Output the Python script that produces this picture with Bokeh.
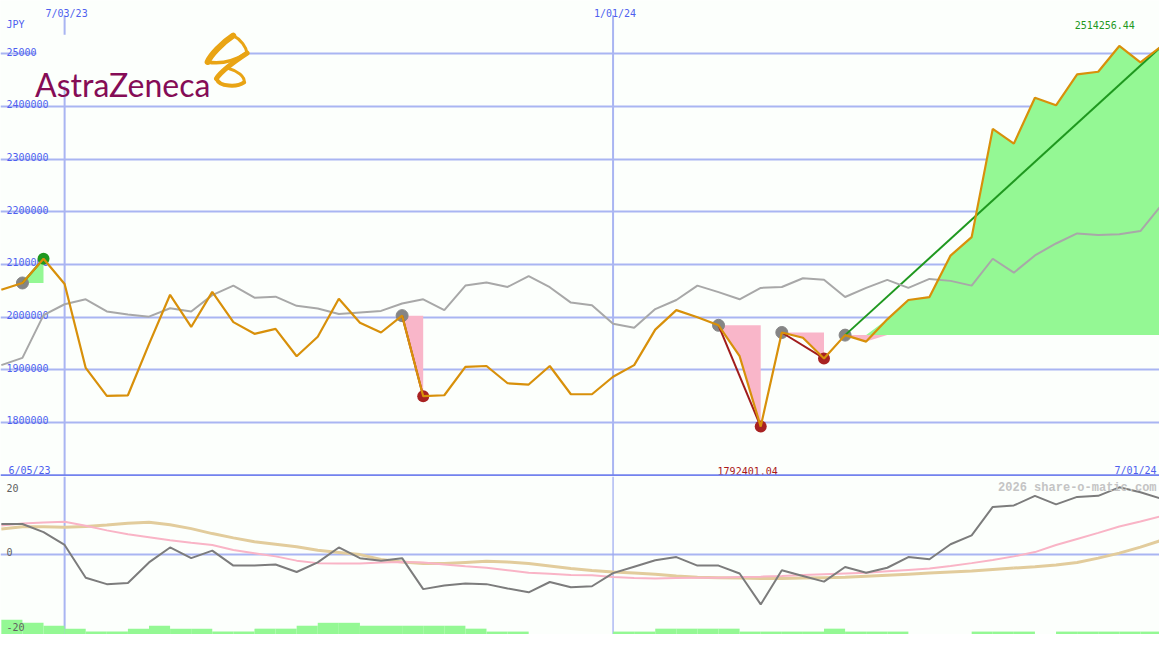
import pandas as pd
from bokeh.plotting import figure
from bokeh.layouts import column
from bokeh.models import Range1d, Grid, FixedTicker, Span
from bokeh.core.properties import value
from bokeh.embed import file_html
from bokeh.resources import INLINE

# ---------------- data ----------------
week_dates = list(pd.date_range("2023-06-12", periods=56, freq="7D"))
week_labels = [f"{d.month}/{d.day:02d}/{d:%y}" for d in week_dates]

price = [2052000, 2065000, 2111000, 2063000, 1903700, 1850500, 1851800, 1948900,
         2042600, 1981500, 2048000, 1990700, 1968500, 1977800, 1925900, 1963000,
         2035000, 1989400, 1971000, 2003000, 1850000, 1851800, 1905600, 1907400,
         1874600, 1872200, 1907400, 1853700, 1853700, 1887000, 1909000, 1976500,
         2013500, 2000000, 1984600, 1926000, 1792401.04, 1971000, 1961000, 1921700,
         1966000, 1953700, 1996000, 2032700, 2038300, 2117000, 2152000, 2357600,
         2329600, 2416700, 2402400, 2461000, 2466000, 2515000, 2484000, 2514256.44]

price_avg = [1909000, 1922800, 2004000, 2024600, 2034000, 2011000, 2005000, 2001000,
             2017000, 2011000, 2042000, 2060000, 2037000, 2039000, 2021600, 2016600,
             2006000, 2009000, 2012000, 2026000, 2034000, 2013500, 2060000, 2066000,
             2057400, 2078000, 2057000, 2027800, 2022800, 1987600, 1980000, 2015400,
             2032700, 2060000, 2047600, 2034000, 2055600, 2057400, 2074000, 2071000,
             2038300, 2055600, 2071000, 2055600, 2072700, 2069000, 2060000, 2111000,
             2084600, 2117300, 2140000, 2159000, 2156000, 2157400, 2163500, 2213000]

osc = [8.5, 8.5, 6.2, 2.6, -6.6, -8.4, -8.1, -2.3, 1.9, -1.1, 1.0, -3.2, -3.2, -2.9,
       -5.0, -2.3, 1.9, -1.1, -1.8, -1.1, -9.8, -8.8, -8.2, -8.4, -9.6, -10.7, -7.8,
       -9.3, -9.0, -5.3, -3.5, -1.7, -0.8, -3.2, -3.2, -5.4, -14.1, -4.5, -6.1, -7.7,
       -3.6, -5.2, -3.8, -0.8, -1.4, 2.8, 5.3, 13.3, 13.7, 16.4, 14.0, 16.1, 16.4,
       18.8, 17.4, 15.6]

osc_fast = [8.1, 8.6, 8.9, 9.1, 8.0, 6.7, 5.6, 4.8, 3.9, 3.2, 2.6, 1.2, 0.3, -0.6,
            -1.8, -2.5, -2.6, -2.6, -2.3, -2.2, -2.3, -2.9, -3.4, -3.8, -4.5, -5.2,
            -5.5, -5.8, -5.9, -6.4, -6.7, -6.8, -6.7, -6.6, -6.6, -6.4, -6.3, -6.1,
            -5.8, -5.6, -5.4, -5.2, -4.8, -4.4, -4.0, -3.3, -2.5, -1.6, -0.6, 0.6,
            2.6, 4.3, 6.0, 7.8, 9.2, 10.7]

osc_slow = [7.1, 7.7, 7.7, 7.6, 7.8, 8.2, 8.7, 9.0, 8.3, 7.2, 5.8, 4.6, 3.5, 2.8,
            2.1, 1.1, 0.5, -0.1, -1.5, -2.2, -2.6, -2.6, -2.3, -2.0, -2.2, -2.6,
            -3.3, -4.0, -4.6, -5.0, -5.3, -5.6, -6.1, -6.5, -6.6, -6.7, -6.8, -6.8,
            -6.7, -6.6, -6.5, -6.2, -5.9, -5.6, -5.3, -5.0, -4.7, -4.3, -3.9, -3.5,
            -3.0, -2.3, -1.1, 0.3, 2.0, 3.9]

volume = [5, 4, 3, 2, 1, 1, 2, 3, 2, 2, 1, 1, 2, 2, 3, 4, 4, 3, 3, 3, 3, 3, 2, 1,
          1, 0, 0, 0, 0, 1, 1, 2, 2, 2, 2, 1, 1, 1, 1, 2, 1, 1, 1, 0, 0, 0, 1, 1,
          1, 0, 1, 1, 1, 1, 1, 1]

price_ticks = [1800000, 1900000, 2000000, 2100000, 2200000, 2300000, 2400000, 2500000]
osc_ticks = ["20", "0", "-20"]
date_ticks = ["7/03/23", "1/01/24"]
range_labels = ["6/05/23", "7/01/24"]
currency = "JPY"
swing_start = [1, 19, 34, 37, 40]
swing_end = [2, 20, 36, 39, 55]
brand = "AstraZeneca"
credit = "2026 share-o-matic.com"

assert len(price) == len(price_avg) == len(osc) == len(osc_fast) == len(osc_slow) == len(volume) == 56

# ---------------- layout / style ----------------
BG = "#fcfffc"
GRID = "#a9b5f2"
BLUE = "#4f5fef"
ORANGE = "#d8900a"
GRAYLINE = "#a8a8a8"
GREEN_FILL = "#94f894"
PINK_FILL = "#f9b6c9"
DARKRED = "#a01c1c"
GREEN = "#1f981f"
MONO = value("DejaVu Sans Mono")

W, H = 1159, 634
OH = 650
MAIN_OH = 488
main_h = round(H * MAIN_OH / OH)
low_h = H - main_h

# reference-pixel -> data helpers
def ix(px):
    return (px - 0.85) / 21.385

def vy(py):
    return 1800000 + (432.7 - py) / 54.0 * 100000

def ly(py):
    return (567.7 - py) / 3.65

xs = list(range(len(price)))
date_idx = [week_labels.index(d) for d in date_ticks]

xr = Range1d(ix(0), ix(1175))

p = figure(width=W, height=main_h, x_range=xr, y_range=Range1d(vy(488), vy(0)),
           x_axis_type=None, y_axis_type=None, toolbar_location=None,
           output_backend="svg", min_border=0, background_fill_color=BG,
           border_fill_color=BG, outline_line_color=None)

p.add_layout(Grid(dimension=1, ticker=FixedTicker(ticks=price_ticks),
                  grid_line_color=GRID, grid_line_width=2))
p.segment(x0=date_idx, y0=[vy(15)] * 2, x1=date_idx, y1=[vy(488)] * 2,
          line_color=GRID, line_width=2)

VPP = 100000 / 54.0
p.text(x=[ix(6)] * len(price_ticks), y=[t + 2.3 * VPP for t in price_ticks],
       text=[str(t) for t in price_ticks], text_font=MONO, text_font_size="10px",
       text_color=BLUE, text_baseline="alphabetic", text_align="left")
p.text(x=[i + 2 / 21.385 for i in date_idx], y=[vy(13)] * 2, text=date_ticks,
       text_font=MONO, text_font_size="10px", text_color=BLUE,
       text_baseline="alphabetic", text_align="center")
p.text(x=[ix(6)], y=[vy(25)], text=[currency], text_font=MONO, text_font_size="10px",
       text_color=BLUE, text_baseline="alphabetic", text_align="left")
p.text(x=[ix(8)], y=[vy(482)], text=[range_labels[0]], text_font=MONO,
       text_font_size="10px", text_color=BLUE, text_baseline="alphabetic",
       text_align="left")
p.text(x=[ix(1172)], y=[vy(482)], text=[range_labels[1]], text_font=MONO,
       text_font_size="10px", text_color=BLUE, text_baseline="alphabetic",
       text_align="right")

# logo
p.quad(left=[ix(36.5)], right=[ix(251)], top=[vy(35)], bottom=[vy(88)],
       fill_color=BG, line_color=None)
p.text(x=[ix(35)], y=[vy(86)], text=[brand], text_font=value("Lato"),
       text_font_size="32px", text_color="#850c56", text_baseline="alphabetic")
LOGO = "#e9a414"
strokes = [((236, 36), (210, 63), (224, 44), (213, 56), 6),
           ((210, 63), (250, 54), (225, 66), (240, 60), 3.5),
           ((236, 36), (250, 54), (244, 40), (249, 48), 3),
           ((250, 54), (219, 80), (238, 62), (224, 72), 5),
           ((219, 80), (247, 84), (222, 89), (240, 89), 4),
           ((247, 84), (232, 70), (248, 78), (240, 72), 3)]
for a, b, c0, c1, w in strokes:
    p.bezier(x0=[ix(a[0])], y0=[vy(a[1])], x1=[ix(b[0])], y1=[vy(b[1])],
             cx0=[ix(c0[0])], cy0=[vy(c0[1])], cx1=[ix(c1[0])], cy1=[vy(c1[1])],
             line_color=LOGO, line_width=w, line_cap="round")

# swing fills
for s, e in zip(swing_start, swing_end):
    lvl = price[s]
    sx = xs[s:e + 1]
    sy = price[s:e + 1]
    p.varea(x=sx, y1=[lvl] * len(sx), y2=[max(v, lvl) for v in sy], fill_color=GREEN_FILL)
    p.varea(x=sx, y1=[lvl] * len(sx), y2=[min(v, lvl) for v in sy], fill_color=PINK_FILL)

# swing markers
p.scatter(x=swing_start, y=[price[s] for s in swing_start], size=12,
          fill_color="#858585", line_color="#858585")
closed = list(zip(swing_start, swing_end))[:-1]
p.scatter(x=[e for s, e in closed], y=[price[e] for s, e in closed], size=12,
          fill_color=[GREEN if price[e] > price[s] else "#a82222" for s, e in closed],
          line_color=None)

# swing trend lines
p.segment(x0=swing_start, y0=[price[s] for s in swing_start],
          x1=swing_end, y1=[price[e] for e in swing_end],
          line_color=[GREEN if price[e] > price[s] else DARKRED
                      for s, e in zip(swing_start, swing_end)], line_width=2)

p.line(xs, price_avg, line_color=GRAYLINE, line_width=2)
p.line(xs, price, line_color=ORANGE, line_width=2.2)

# value labels
last = price[-1]
lo = min(price)
p.text(x=[ix(1150)], y=[vy(25)], text=[f"{last:.2f}"], text_font=MONO,
       text_font_size="10px", text_color=GREEN, text_baseline="alphabetic",
       text_align="right")
p.text(x=[ix(757.5)], y=[vy(482)], text=[f"{lo:.2f}"], text_font=MONO,
       text_font_size="10px", text_color="#aa1818", text_baseline="alphabetic",
       text_align="center")

p.add_layout(Span(location=vy(487), dimension="width", line_color="#7282ee",
                  line_width=2.5, level="overlay"))

# ---------------- lower panel ----------------
q = figure(width=W, height=low_h, x_range=xr, y_range=Range1d(ly(650), ly(488)),
           x_axis_type=None, y_axis_type=None, toolbar_location=None,
           output_backend="svg", min_border=0, background_fill_color=BG,
           border_fill_color=BG, outline_line_color=None)
q.extra_y_ranges = {"vol": Range1d(0, (650 - 488) / 3.0)}
q.quad(left=xs, right=[x + 1 for x in xs], bottom=[0] * len(xs), top=volume,
       y_range_name="vol", fill_color=GREEN_FILL, line_color=None)
q.add_layout(Grid(dimension=1, ticker=FixedTicker(ticks=[0]),
                  grid_line_color=GRID, grid_line_width=2))
q.add_layout(Span(location=date_idx[0], dimension="height", line_color=GRID,
                  line_width=2, level="underlay"))
q.add_layout(Span(location=date_idx[1], dimension="height", line_color="#9aa8f0",
                  line_width=1.2, level="underlay"))
q.line(xs, osc_slow, line_color="#e2cc9c", line_width=3)
q.line(xs, osc_fast, line_color="#f9b4c6", line_width=2)
q.line(xs, osc, line_color="#7c7c7c", line_width=2)
q.text(x=[ix(6)] * 3, y=[ly(499.3), ly(565), ly(642.5)], text=osc_ticks,
       text_font=MONO, text_font_size="10px", text_color="#606060",
       text_baseline="alphabetic", text_align="left")
q.text(x=[ix(1172)], y=[ly(500)], text=[credit], text_font=value("Liberation Mono"),
       text_font_size="12px", text_font_style="bold", text_color="#c4c4c4",
       text_baseline="alphabetic", text_align="right")

layout = column(p, q, spacing=0)
open("out.html", "w").write(file_html(layout, INLINE))
